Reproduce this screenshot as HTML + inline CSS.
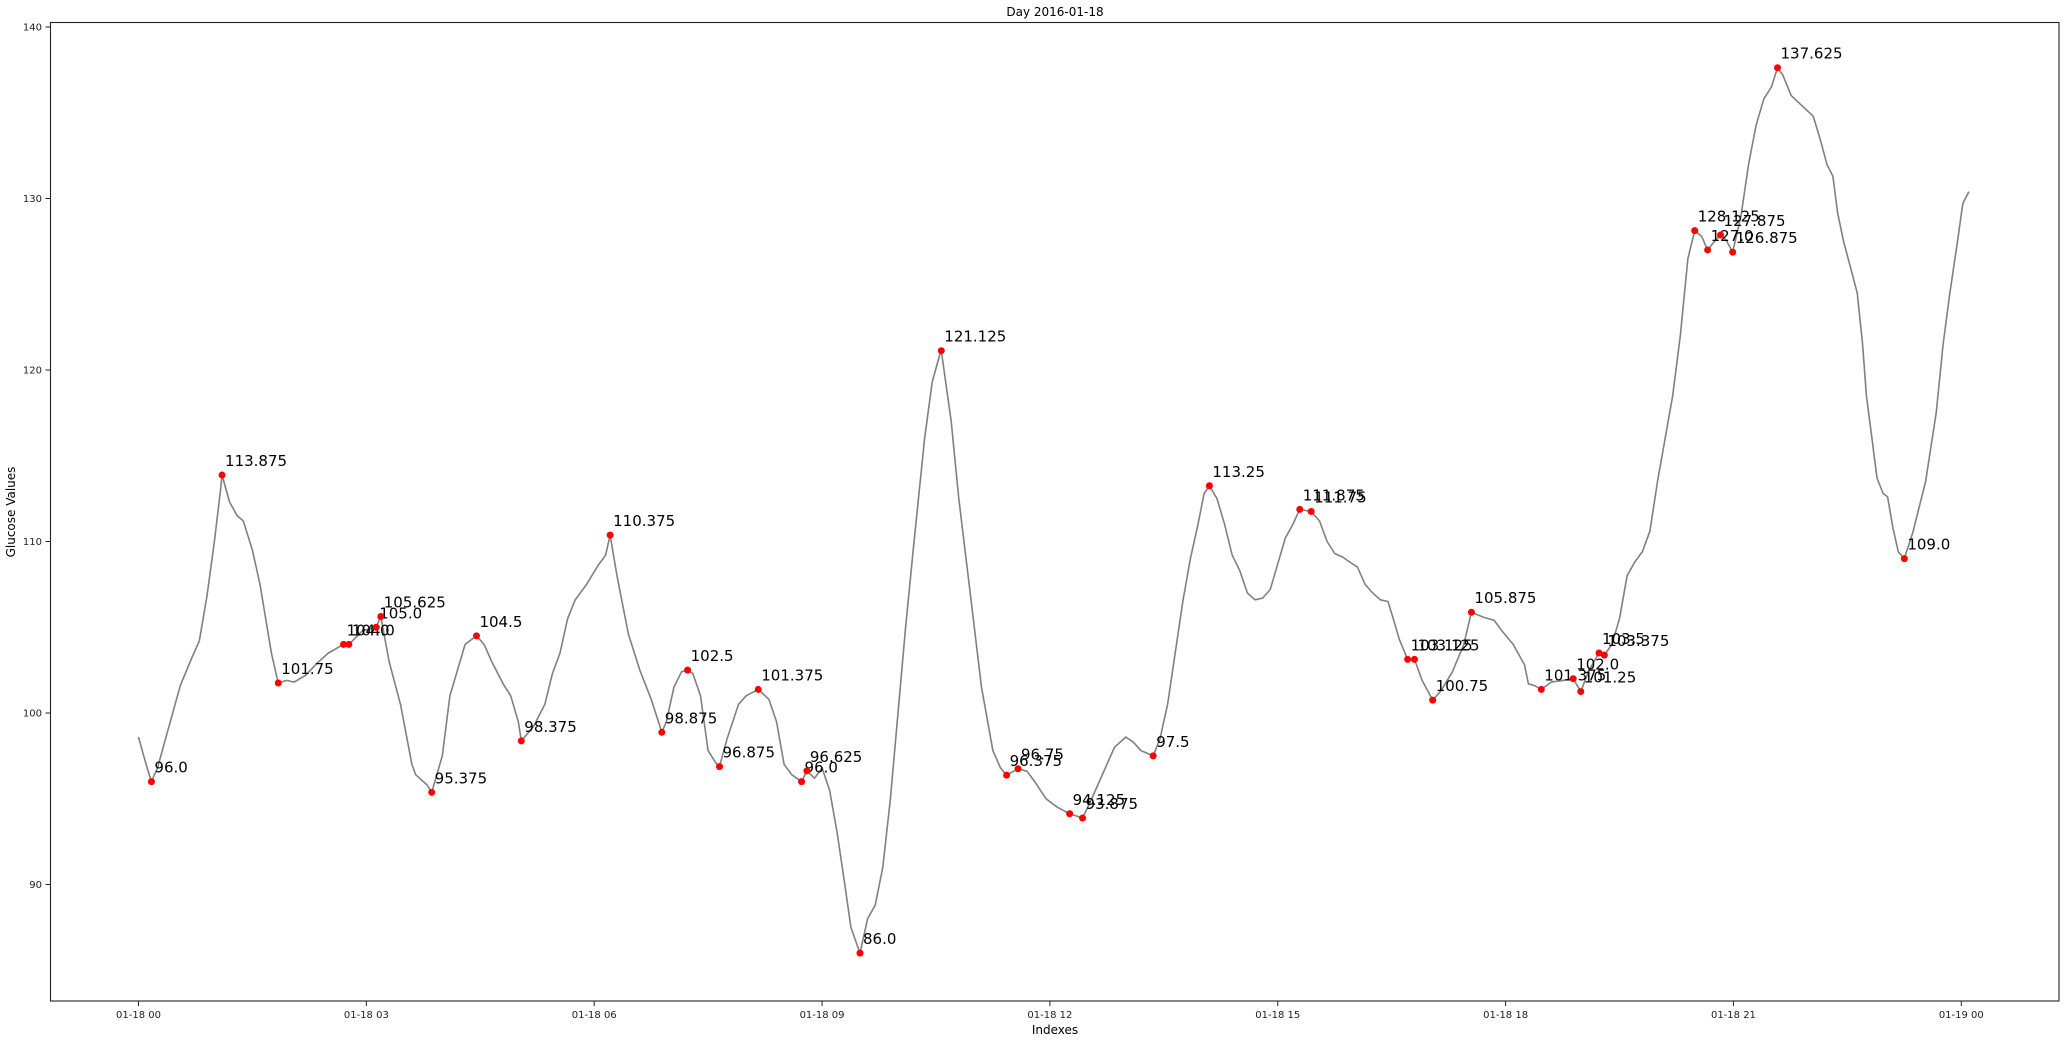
<!DOCTYPE html>
<html><head><meta charset="utf-8"><style>
body{margin:0;background:#fff;}
svg{display:block;font-family:"DejaVu Sans","Liberation Sans",sans-serif;}
</style></head><body>
<svg id="chart" width="2066" height="1042" viewBox="0 0 2066 1042" xmlns="http://www.w3.org/2000/svg">
<text x="1055" y="16" font-size="12" text-anchor="middle">Day 2016-01-18</text>
<g id="axes"></g>
<g id="plot"></g>
<rect x="50.5" y="22.5" width="2008.5" height="978.5" fill="none" stroke="#222" stroke-width="1.1"/>
<text x="1055" y="1034" font-size="12" text-anchor="middle">Indexes</text>
<text x="15" y="512" font-size="12" text-anchor="middle" transform="rotate(-90 15 512)">Glucose Values</text>
</svg>
<script>
const lineHours=[0,0.1,0.17,0.25,0.4,0.55,0.7,0.8,0.9,1.0,1.08,1.1,1.2,1.3,1.38,1.5,1.6,1.75,1.84,1.95,2.05,2.2,2.35,2.5,2.7,2.77,2.95,3.13,3.19,3.3,3.45,3.6,3.65,3.8,3.86,4.0,4.1,4.2,4.3,4.45,4.55,4.65,4.8,4.9,5.0,5.04,5.2,5.35,5.45,5.55,5.65,5.75,5.9,6.05,6.15,6.21,6.3,6.45,6.6,6.75,6.89,6.95,7.05,7.15,7.23,7.3,7.4,7.5,7.6,7.65,7.75,7.9,8.0,8.16,8.3,8.4,8.5,8.6,8.73,8.8,8.9,9.0,9.1,9.2,9.3,9.38,9.5,9.6,9.7,9.8,9.9,10.0,10.1,10.2,10.35,10.45,10.55,10.57,10.7,10.8,10.95,11.1,11.25,11.35,11.43,11.58,11.7,11.8,11.95,12.1,12.26,12.43,12.55,12.7,12.85,13.0,13.1,13.2,13.36,13.45,13.55,13.65,13.75,13.85,13.95,14.03,14.1,14.2,14.3,14.4,14.5,14.6,14.7,14.8,14.9,15.0,15.1,15.2,15.29,15.44,15.55,15.65,15.75,15.85,15.95,16.05,16.15,16.25,16.35,16.45,16.5,16.6,16.71,16.8,16.9,17.04,17.15,17.3,17.45,17.55,17.7,17.85,17.95,18.1,18.25,18.3,18.38,18.47,18.6,18.75,18.89,18.99,19.1,19.23,19.3,19.4,19.5,19.6,19.7,19.8,19.9,20.0,20.1,20.2,20.3,20.4,20.49,20.58,20.66,20.75,20.83,20.9,20.99,21.1,21.2,21.3,21.4,21.5,21.58,21.65,21.76,21.88,22.05,22.14,22.23,22.31,22.37,22.45,22.54,22.63,22.7,22.75,22.83,22.89,22.97,23.03,23.1,23.17,23.25,23.36,23.53,23.67,23.76,23.85,23.95,24.02,24.1];
const lineValues=[98.6,97.0,96.0,96.8,99.2,101.6,103.2,104.2,106.8,110.0,113.0,113.875,112.3,111.5,111.2,109.5,107.5,103.5,101.75,101.9,101.8,102.2,102.9,103.5,104.0,104.0,104.8,105.0,105.625,103.0,100.5,97.0,96.4,95.8,95.375,97.5,101.0,102.5,104.0,104.5,104.0,103.0,101.7,101.0,99.5,98.375,99.2,100.5,102.3,103.5,105.5,106.6,107.5,108.6,109.2,110.375,108.0,104.6,102.5,100.8,98.875,99.5,101.5,102.4,102.5,102.3,101.0,97.8,97.1,96.875,98.5,100.5,101.0,101.375,100.8,99.5,97.0,96.4,96.0,96.625,96.2,96.8,95.5,93.0,90.0,87.5,86.0,88.0,88.8,91.0,95.0,100.0,105.0,109.5,116.0,119.3,120.9,121.125,117.0,112.5,107.0,101.5,97.8,96.8,96.375,96.75,96.6,96.0,95.0,94.5,94.125,93.875,95.0,96.5,98.0,98.6,98.3,97.8,97.5,98.5,100.5,103.5,106.5,109.0,111.0,112.8,113.25,112.5,111.0,109.2,108.3,107.0,106.6,106.7,107.2,108.7,110.2,111.0,111.875,111.75,111.2,110.0,109.3,109.1,108.8,108.5,107.5,107.0,106.6,106.5,105.8,104.3,103.125,103.125,101.9,100.75,101.3,102.4,104.0,105.875,105.6,105.4,104.8,104.0,102.8,101.7,101.6,101.375,101.8,101.9,102.0,101.25,102.5,103.5,103.375,104.0,105.5,108.0,108.8,109.4,110.6,113.5,116.0,118.5,122.0,126.5,128.125,127.8,127.0,127.5,127.875,127.6,126.875,129.0,132.0,134.3,135.8,136.5,137.625,137.2,136.0,135.5,134.8,133.5,132.0,131.3,129.2,127.5,126.0,124.5,121.5,118.5,115.8,113.7,112.8,112.6,110.8,109.4,109.0,110.5,113.5,117.5,121.5,124.5,127.5,129.7,130.4];
const markerHours=[0.17,1.1,1.84,2.7,2.77,3.13,3.19,3.86,4.45,5.04,6.21,6.89,7.23,7.65,8.16,8.73,8.8,9.5,10.57,11.43,11.58,12.26,12.43,13.36,14.1,15.29,15.44,16.71,16.8,17.04,17.55,18.47,18.89,18.99,19.23,19.3,20.49,20.66,20.83,20.99,21.58,23.25];
const markerValues=[96.0,113.875,101.75,104.0,104.0,105.0,105.625,95.375,104.5,98.375,110.375,98.875,102.5,96.875,101.375,96.0,96.625,86.0,121.125,96.375,96.75,94.125,93.875,97.5,113.25,111.875,111.75,103.125,103.125,100.75,105.875,101.375,102.0,101.25,103.5,103.375,128.125,127.0,127.875,126.875,137.625,109.0];
const yTicks=[90,100,110,120,130,140];
const xTickHours=[0,3,6,9,12,15,18,21,24];
const xTickLabels=["01-18 00","01-18 03","01-18 06","01-18 09","01-18 12","01-18 15","01-18 18","01-18 21","01-19 00"];

const NS="http://www.w3.org/2000/svg";
function xs(h){return 138.5+h*75.95;}
function ys(v){return 198.5-(v-130)*17.15;}
function mk(tag,attrs,parent){const e=document.createElementNS(NS,tag);for(const k in attrs)e.setAttribute(k,attrs[k]);parent.appendChild(e);return e;}
const axes=document.getElementById('axes');
const plot=document.getElementById('plot');
yTicks.forEach(v=>{
  const t=mk('line',{x1:45.5,x2:50.5,y1:ys(v),y2:ys(v),stroke:'#222','stroke-width':1},axes);
  
  
  const l=mk('text',{x:42,y:ys(v)+3.6,'font-size':10,'text-anchor':'end',fill:'#222'},axes);
  
  
  l.textContent=v;
});
xTickHours.forEach((h,i)=>{
  const t=mk('line',{x1:xs(h),x2:xs(h),y1:1001,y2:1006},axes);
  t.setAttribute('stroke','#222');
  
  
  const l=mk('text',{x:xs(h),y:1018,'font-size':10,'text-anchor':'middle',fill:'#222'},axes);
  
  
  l.textContent=xTickLabels[i];
});
const d=lineHours.map((h,i)=>(i?'L':'M')+xs(h).toFixed(1)+' '+ys(lineValues[i]).toFixed(1)).join(' ');
const p=mk('path',{d:d,fill:'none',stroke:'#808080','stroke-width':1.6,'stroke-linejoin':'round'},plot);


markerHours.forEach((h,i)=>{
  const c=mk('circle',{cx:xs(h),cy:ys(markerValues[i]),r:3.5,fill:'#ff0000'},plot);
  
  
  const t=mk('text',{x:xs(h)+3,y:ys(markerValues[i])-9,'font-size':15,fill:'#000'},plot);
  
  
  t.textContent=String(markerValues[i]%1===0?markerValues[i].toFixed(1):markerValues[i]);
});
</script>
</body></html>
